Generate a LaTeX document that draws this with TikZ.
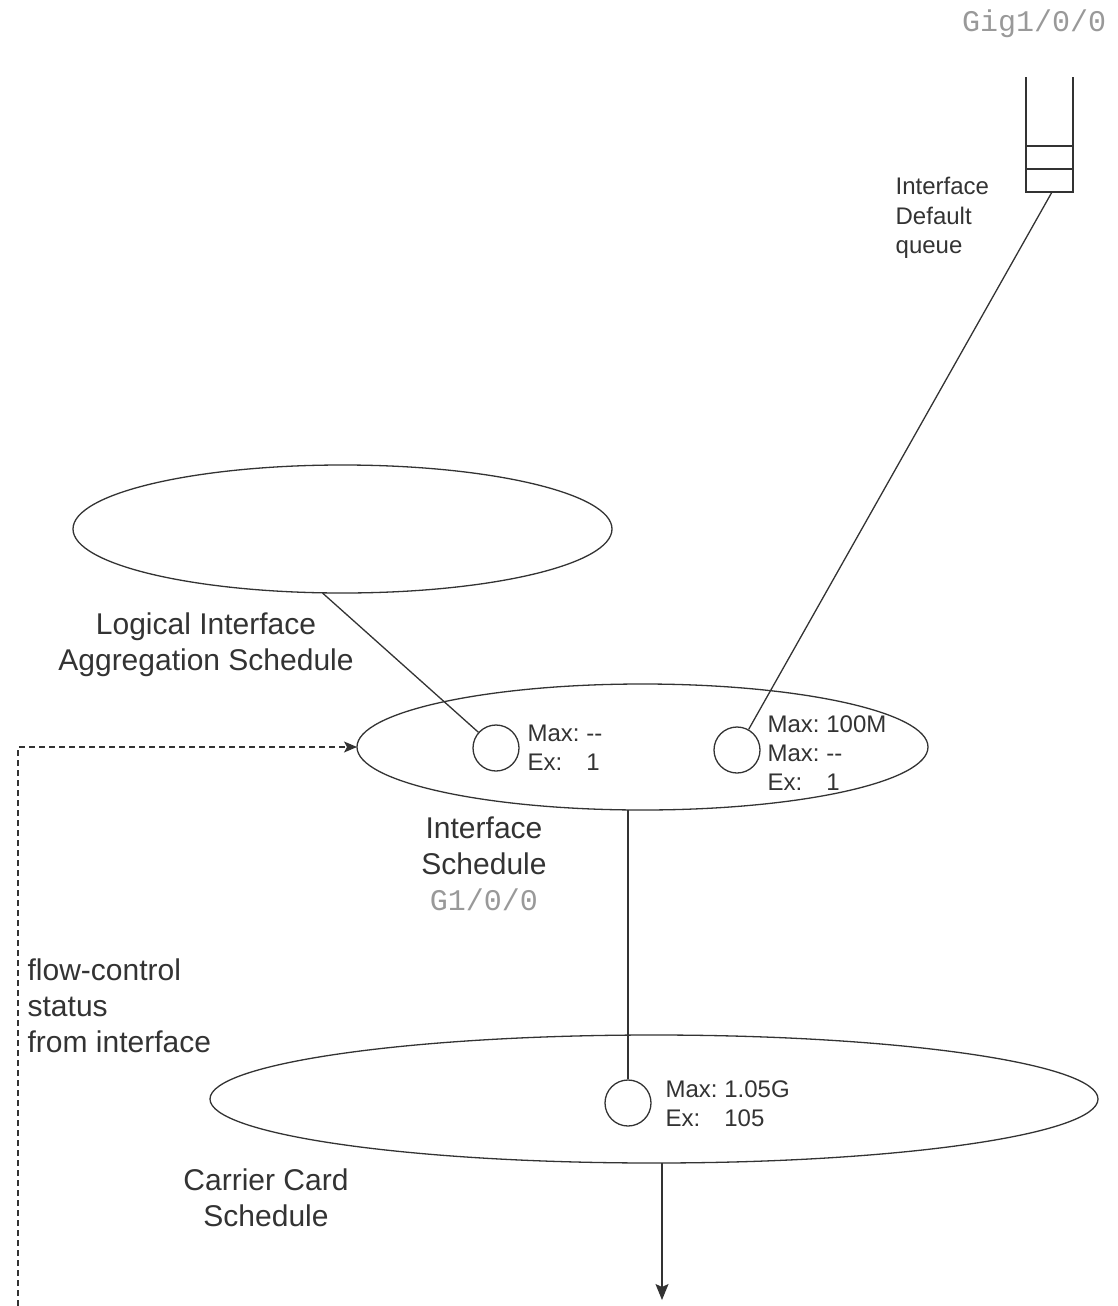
\documentclass[tikz,border=0pt]{standalone}
\usepackage{fontspec}
\setmainfont{Liberation Sans}
\setmonofont{Liberation Mono}
\usepackage{xcolor}
\usetikzlibrary{shapes.geometric,arrows.meta,positioning}
\definecolor{ink}{HTML}{333333}
\definecolor{port}{HTML}{999999}

\begin{document}
\begin{tikzpicture}[x=1pt, y=-1pt, line width=1.3pt, draw=ink, text=ink,
    sched/.style={ellipse, draw, inner sep=0pt, outer sep=0pt},
    slot/.style={circle, draw, minimum size=46pt, inner sep=0pt},
    big/.style={font=\fontsize{30}{36}\selectfont, inner sep=0pt},
    small/.style={font=\fontsize{24}{29}\selectfont, inner sep=0pt},
    portname/.style={font=\ttfamily\fontsize{30}{36}\selectfont, text=port, inner sep=0pt}]
    \useasboundingbox (0,0) rectangle (1118,1306);

    % schedules
    \node[sched, minimum width=539pt, minimum height=128pt] (agg) at (342.5,529) {};
    \node[sched, minimum width=571pt, minimum height=126pt] (ifs) at (642.5,747) {};
    \node[sched, minimum width=888pt, minimum height=128pt] (cc) at (654,1099) {};

    \node[slot] (c1) at (496,748) {};
    \node[slot] (c2) at (737,750) {};
    \node[slot] (c3) at (628,1103) {};

    % default queue
    \draw (1026,77) -- (1026,192) -- (1073,192) -- (1073,77);
    \draw[line width=2pt] (1026,146) -- (1073,146) (1026,169) -- (1073,169);
    \coordinate (queue) at (1052,192);

    % labels
    \node[portname] (gig) at (1034,24) {Gig1/0/0};
    \node[small, align=left, anchor=west, font=\fontsize{24}{29.5}\selectfont] (dq) at (895,218) {Interface\\Default\\queue};
    \node[big, align=center] (agglbl) at (206,645) {Logical Interface\\Aggregation Schedule};
    \node[big, align=center] (ifslbl) at (484,864) {Interface\\Schedule\\{\ttfamily\color{port}G1/0/0}};
    \node[big, align=center] (cclbl) at (266,1198) {Carrier Card\\Schedule};
    \node[big, align=left, anchor=west] (fc) at (27,1006) {flow-control\\status\\from interface};

    \node[small, anchor=west] (m1) at (527,750) {\begin{tabular}{@{}l@{~}l@{}}Max: & -{}-\\ Ex: & 1\end{tabular}};
    \node[small, anchor=west] (m2) at (767,756) {\begin{tabular}{@{}l@{~}l@{}}Max: & 100M\\ Max: & -{}-\\ Ex: & 1\end{tabular}};
    \node[small, anchor=west] (m3) at (665,1106) {\begin{tabular}{@{}l@{~}l@{}}Max: & 1.05G\\ Ex: & 105\end{tabular}};

    % connectors
    \draw ([xshift=-20pt]agg.south) -- (c1);
    \draw (queue) -- (c2);
    \draw (c3) -- (c3 |- ifs.south);
    \coordinate (out) at (662,1300);
    \draw[-{Stealth[length=16pt, width=13pt, inset=3pt]}] (cc.south -| out) -- (out);

    % flow-control feedback
    \coordinate (fb) at (18,1306);
    \draw[dash pattern=on 6pt off 4pt, line width=1.1pt, -{Stealth[length=13pt, width=11pt, inset=3pt]}] (fb) |- (ifs.west);
\end{tikzpicture}
\end{document}
